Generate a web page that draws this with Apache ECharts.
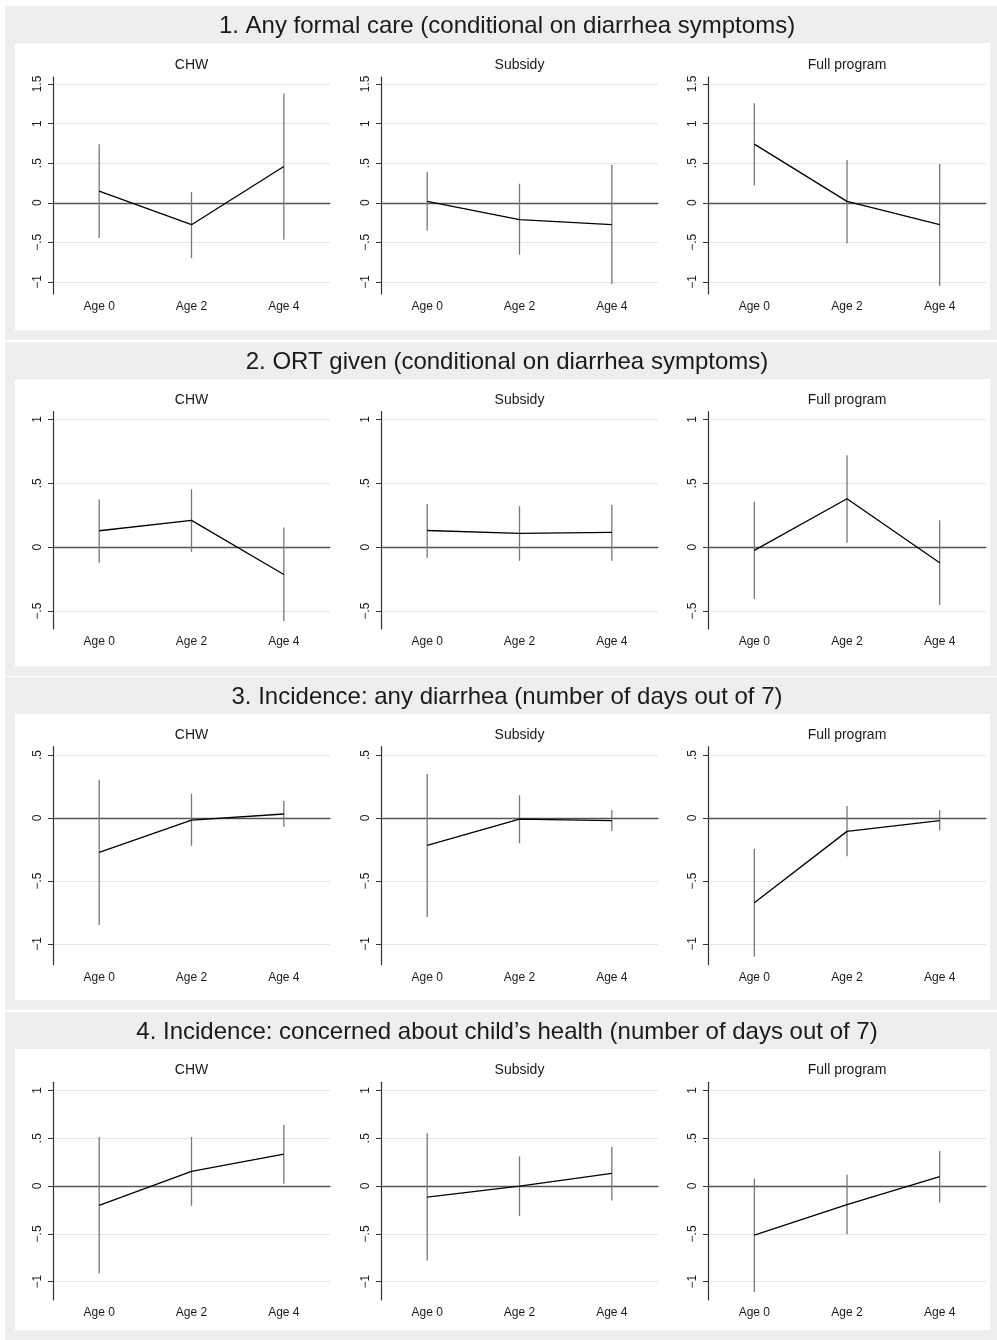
<!DOCTYPE html>
<html>
<head>
<meta charset="utf-8">
<title>Program effects by age</title>
<script src="https://cdn.jsdelivr.net/npm/echarts@6/dist/echarts.min.js"></script>
<style>
  html, body { margin: 0; padding: 0; background: #fff; }
  #chart { width: 997px; height: 1340px; }
</style>
</head>
<body>
<div id="chart"></div>
<script>
// categories / labels
const ages = ['Age 0', 'Age 2', 'Age 4'];
const groups = ['CHW', 'Subsidy', 'Full program'];
const panelTitles = [
  '1. Any formal care (conditional on diarrhea symptoms)',
  '2. ORT given (conditional on diarrhea symptoms)',
  '3. Incidence: any diarrhea (number of days out of 7)',
  '4. Incidence: concerned about child\u2019s health (number of days out of 7)'
];

// y ticks and axis extents per panel row
const yTicks = [
  [-1, -0.5, 0, 0.5, 1, 1.5],
  [-0.5, 0, 0.5, 1],
  [-1, -0.5, 0, 0.5],
  [-1, -0.5, 0, 0.5, 1]
];
const yMin = [-1.152, -0.641, -1.164, -1.191];
const yMax = [1.588, 1.06, 0.566, 1.084];

// point estimates and CI bounds, rows = CHW, Subsidy, Full program
const careEst = [[0.147, -0.277, 0.458], [0.017, -0.214, -0.277], [0.74, 0.017, -0.277]];
const careLo  = [[-0.445, -0.70, -0.467], [-0.35, -0.656, -1.025], [0.218, -0.515, -1.05]];
const careHi  = [[0.74, 0.135, 1.38], [0.387, 0.24, 0.479], [1.257, 0.54, 0.49]];

const ortEst = [[0.128, 0.209, -0.214], [0.13, 0.107, 0.115], [-0.026, 0.379, -0.123]];
const ortLo  = [[-0.123, -0.037, -0.58], [-0.084, -0.107, -0.107], [-0.407, 0.034, -0.454]];
const ortHi  = [[0.373, 0.452, 0.154], [0.337, 0.321, 0.332], [0.355, 0.72, 0.211]];

const diarEst = [[-0.272, -0.016, 0.032], [-0.217, -0.008, -0.021], [-0.672, -0.106, -0.021]];
const diarLo  = [[-0.849, -0.22, -0.069], [-0.786, -0.201, -0.103], [-1.10, -0.304, -0.10]];
const diarHi  = [[0.304, 0.193, 0.138], [0.349, 0.18, 0.063], [-0.243, 0.095, 0.063]];

const concEst = [[-0.202, 0.153, 0.334], [-0.115, 0.0, 0.132], [-0.512, -0.195, 0.098]];
const concLo  = [[-0.913, -0.206, 0.024], [-0.777, -0.314, -0.15], [-1.108, -0.505, -0.171]];
const concHi  = [[0.512, 0.512, 0.641], [0.551, 0.31, 0.411], [0.08, 0.118, 0.366]];

const rows = [
  [careEst, careLo, careHi],
  [ortEst, ortLo, ortHi],
  [diarEst, diarLo, diarHi],
  [concEst, concLo, concHi]
];

// layout
const panelTop = [6, 342, 677, 1012];
const panelH = [334, 334, 333, 328];
const gridTop = [77, 411.7, 746.7, 1082.3];
const gridBottom = [294, 629, 964.7, 1300];
const colLeft = [53, 381, 708];
const colRight = [330, 658, 986];
const FONT = '"Liberation Sans", Arial, Helvetica, sans-serif';

function fmtTick(v) {
  let s = String(Math.abs(v)).replace(/^0\./, '.');
  return (v < 0 ? '\u2212' : '') + s;
}

let grids = [], xAxes = [], yAxes = [], series = [], graphics = [];

panelTop.forEach((top, r) => {
  graphics.push({ type: 'rect', z: -2, silent: true,
    shape: { x: 5, y: top, width: 992, height: panelH[r] },
    style: { fill: '#eeeeee' } });
  graphics.push({ type: 'rect', z: -1, silent: true,
    shape: { x: 15, y: top + 37, width: 975, height: panelH[r] - 47 },
    style: { fill: '#ffffff' } });
  graphics.push({ type: 'text', z: 10, silent: true, x: 507, y: top + 20,
    style: { text: panelTitles[r], font: '24px ' + FONT, fill: '#1a1a1a',
      textAlign: 'center', textVerticalAlign: 'middle' } });
});

rows.forEach(([est, lo, hi], r) => {
  groups.forEach((g, c) => {
    const idx = grids.length;
    grids.push({ left: colLeft[c], top: gridTop[r],
      width: colRight[c] - colLeft[c], height: gridBottom[r] - gridTop[r] });

    graphics.push({ type: 'text', z: 10, silent: true,
      x: (colLeft[c] + colRight[c]) / 2, y: gridTop[r] - 12,
      style: { text: g, font: '14px ' + FONT, fill: '#1a1a1a',
        textAlign: 'center', textVerticalAlign: 'middle' } });

    xAxes.push({
      type: 'category', gridIndex: idx, data: ages, boundaryGap: true,
      axisLine: { lineStyle: { color: '#333', width: 1.2 } },
      axisTick: { alignWithLabel: true, length: 5, lineStyle: { color: '#333' } },
      axisLabel: { fontFamily: FONT, fontSize: 12, color: '#1a1a1a', margin: 7 },
      splitLine: { show: false }
    });
    yAxes.push({
      type: 'value', gridIndex: idx, min: yMin[r], max: yMax[r],
      axisLine: { show: true, lineStyle: { color: '#333', width: 1.2 } },
      axisTick: { show: true, length: 5, customValues: yTicks[r], lineStyle: { color: '#333' } },
      axisLabel: { customValues: yTicks[r], rotate: 90, formatter: fmtTick,
        fontFamily: FONT, fontSize: 12, color: '#1a1a1a', margin: 9 },
      splitLine: { show: false }
    });

    // confidence intervals
    series.push({
      type: 'custom', xAxisIndex: idx, yAxisIndex: idx, z: 2, silent: true,
      data: ages.map((a, i) => [i, lo[c][i], hi[c][i]]),
      encode: { x: 0, y: [1, 2] },
      renderItem: (params, api) => {
        const p1 = api.coord([api.value(0), api.value(1)]);
        const p2 = api.coord([api.value(0), api.value(2)]);
        return { type: 'line', shape: { x1: p1[0], y1: p1[1], x2: p2[0], y2: p2[1] },
          style: { stroke: '#777777', lineWidth: 1.3 } };
      },
      markLine: {
        silent: true, symbol: 'none', z: 0, animation: false,
        label: { show: false }, emphasis: { disabled: true },
        lineStyle: { color: '#e6e6e6', width: 1, type: 'solid' },
        data: yTicks[r].filter(t => t !== 0).map(t => ({ yAxis: t }))
      }
    });

    // point estimates
    series.push({
      type: 'line', xAxisIndex: idx, yAxisIndex: idx, z: 3, silent: true,
      data: est[c], symbol: 'none',
      lineStyle: { color: '#000', width: 1.3 },
      markLine: {
        silent: true, symbol: 'none', z: 1, animation: false,
        label: { show: false }, emphasis: { disabled: true },
        lineStyle: { color: '#555', width: 1.3, type: 'solid' },
        data: [{ yAxis: 0 }]
      }
    });
  });
});

const chart = echarts.init(document.getElementById('chart'));
chart.setOption({
  animation: false,
  backgroundColor: '#ffffff',
  graphic: { elements: graphics },
  grid: grids,
  xAxis: xAxes,
  yAxis: yAxes,
  series: series
});
</script>
</body>
</html>
